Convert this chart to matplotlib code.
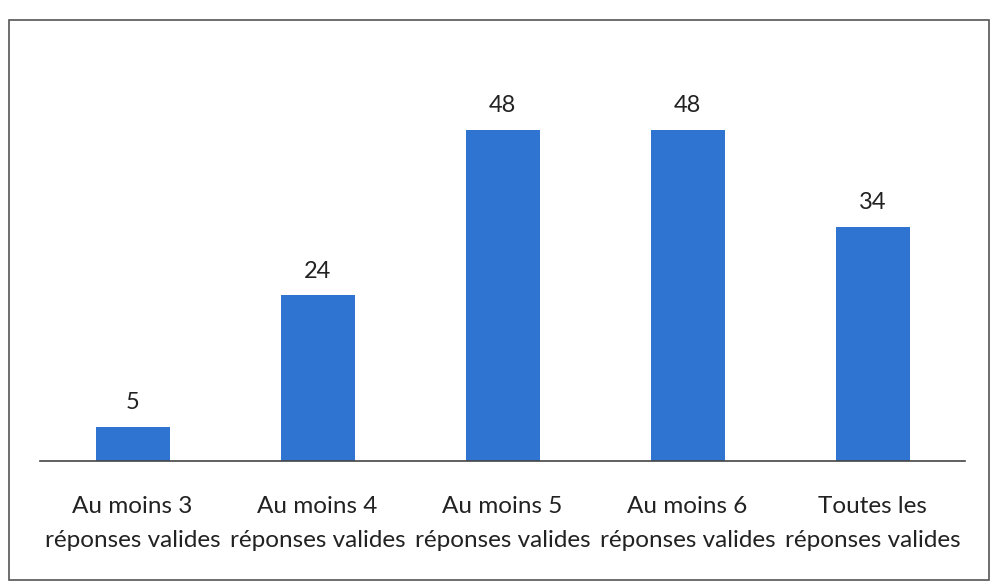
import matplotlib
matplotlib.use("Agg")
import matplotlib.pyplot as plt
from matplotlib.patches import Rectangle

categories = ["Au moins 3\nréponses valides", "Au moins 4\nréponses valides",
              "Au moins 5\nréponses valides", "Au moins 6\nréponses valides",
              "Toutes les\nréponses valides"]
values = [5, 24, 48, 48, 34]

plt.rcParams['font.family'] = ['Lato', 'DejaVu Sans']

fig = plt.figure(figsize=(9.95, 5.88), dpi=100)
fig.patches.append(Rectangle((9/995, 8/588), 980/995, 560/588, transform=fig.transFigure,
                             fill=False, edgecolor='#555555', linewidth=1.2))
ax = fig.add_axes([40/995, (588-461)/588, 925/995, 431/588])
x = range(len(categories))
bars = ax.bar(x, values, width=0.4, color='#2F74D0')
ax.set_xlim(-0.5, len(categories)-0.5)
ax.set_ylim(0, 62.5)
for b, v in zip(bars, values):
    ax.annotate(str(v), (b.get_x()+b.get_width()/2, v), xytext=(0, 10),
                textcoords='offset points', ha='center', va='bottom', fontsize=17, color='#222222')
ax.set_xticks(list(x))
ax.set_xticklabels(categories, fontsize=17.5, color='#222222', linespacing=1.8)
ax.tick_params(axis='x', length=0, pad=25)
ax.set_yticks([])
for s in ['top', 'right', 'left']:
    ax.spines[s].set_visible(False)
ax.spines['bottom'].set_color('#444444')
ax.spines['bottom'].set_linewidth(1.2)
fig.savefig("out.png", dpi=100)
